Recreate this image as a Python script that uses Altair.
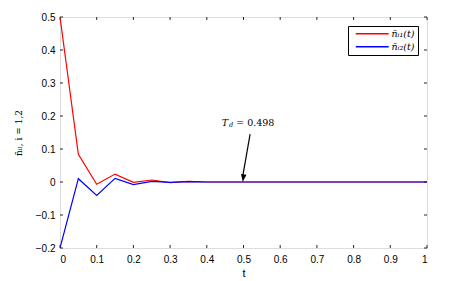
import altair as alt
import pandas as pd

# ---- data ----
t_vals = [0.0, 0.05, 0.1, 0.15, 0.2, 0.25, 0.3, 0.35, 0.4, 0.45, 0.5, 0.55, 0.6, 0.65,
          0.7, 0.75, 0.8, 0.85, 0.9, 0.95, 1.0]
n11 = [0.5, 0.084, -0.007, 0.024, -0.001, 0.006, -0.002, 0.002, 0.0, 0.0, 0.0, 0.0, 0.0,
       0.0, 0.0, 0.0, 0.0, 0.0, 0.0, 0.0, 0.0]
n12 = [-0.2, 0.010, -0.041, 0.011, -0.008, 0.002, -0.001, 0.001, 0.0, 0.0, 0.0, 0.0, 0.0,
       0.0, 0.0, 0.0, 0.0, 0.0, 0.0, 0.0, 0.0]
series_names = ["n̄ᵢ₁(t)", "n̄ᵢ₂(t)"]
series_colors = ["#ff0000", "#0000ff"]

x_ticks = [0, 0.1, 0.2, 0.3, 0.4, 0.5, 0.6, 0.7, 0.8, 0.9, 1]
y_ticks = [-0.2, -0.1, 0, 0.1, 0.2, 0.3, 0.4, 0.5]

annot_value = 0.498
arrow_start = (0.518, 0.145)
arrow_end = (0.498, 0.0)
label_pos = (0.48, 0.18)

W, H = 367, 231
AX = "#262626"

rows = []
for name, vals in zip(series_names, [n11, n12]):
    for t, v in zip(t_vals, vals):
        rows.append({"t": t, "v": v, "s": name})
df = pd.DataFrame(rows)

xs = alt.Scale(domain=[0, 1], nice=False, zero=False)
ys = alt.Scale(domain=[-0.2, 0.5], nice=False, zero=False)
xaxis = alt.Axis(values=x_ticks, ticks=False, title="t", labelPadding=6, titlePadding=3,
                 grid=False, domain=False, format="~g", labelOverlap=False,
                 titleFontWeight="normal")
yaxis = alt.Axis(values=y_ticks, ticks=False, title="n̄ᵢₗ, i = 1,2", grid=False,
                 labelPadding=5, titlePadding=12, domain=False, format="~g",
                 labelOverlap=False, titleFont="DejaVu Serif", titleFontWeight="normal",
                 titleFontSize=9)
XN = dict(scale=xs, axis=xaxis, title="t")
YN = dict(scale=ys, axis=yaxis, title="n̄ᵢₗ, i = 1,2")

lines = alt.Chart(df).mark_line(strokeWidth=1.2, clip=True).encode(
    x=alt.X("t:Q", **XN),
    y=alt.Y("v:Q", **YN),
    color=alt.Color("s:N", scale=alt.Scale(domain=series_names, range=series_colors),
                    legend=alt.Legend(title=None, orient="none", legendX=288, legendY=9,
                                      symbolType="M0,0H9.4", symbolSize=49,
                                      symbolStrokeWidth=1.3, strokeColor="#000000",
                                      fillColor="#ffffff", padding=3, rowPadding=2,
                                      labelFont="DejaVu Serif", labelFontStyle="italic",
                                      labelFontSize=9.5, labelColor="#000000",
                                      labelOffset=31)),
    order=alt.Order("t:Q"),
)

xt = pd.DataFrame({"x": x_ticks})
yt = pd.DataFrame({"y": y_ticks})
tick_b = alt.Chart(xt).mark_rule(color=AX, strokeWidth=1).encode(
    x=alt.X("x:Q", **XN), y=alt.value(H), y2=alt.value(H - 3))
tick_t = alt.Chart(xt).mark_rule(color=AX, strokeWidth=1).encode(
    x=alt.X("x:Q", **XN), y=alt.value(0), y2=alt.value(3))
tick_l = alt.Chart(yt).mark_rule(color=AX, strokeWidth=1).encode(
    y=alt.Y("y:Q", **YN), x=alt.value(0), x2=alt.value(3))
tick_r = alt.Chart(yt).mark_rule(color=AX, strokeWidth=1).encode(
    y=alt.Y("y:Q", **YN), x=alt.value(W), x2=alt.value(W - 3))

arr = pd.DataFrame({"x": [arrow_start[0]], "y": [arrow_start[1]],
                    "x2": [arrow_end[0]], "y2": [arrow_end[1] + 0.018]})
arrow_line = alt.Chart(arr).mark_rule(color="#000000", strokeWidth=1.2).encode(
    x=alt.X("x:Q", **XN), y=alt.Y("y:Q", **YN), x2="x2:Q", y2="y2:Q")
head = pd.DataFrame({"x": [arrow_end[0]], "y": [arrow_end[1]]})
arrow_head = alt.Chart(head).mark_point(
    shape="M0,0L-1,-2.8L1,-2.8Z", size=30, filled=True, color="#000000", opacity=1,
    angle=7).encode(x=alt.X("x:Q", **XN), y=alt.Y("y:Q", **YN))

lab = pd.DataFrame({"x": [label_pos[0]], "y": [label_pos[1]],
                    "txt": ["= " + str(annot_value)]})
label_main = alt.Chart(lab).mark_text(align="left", baseline="middle", font="DejaVu Serif",
                                      fontSize=9.5, color="#000000").encode(
    x=alt.X("x:Q", **XN), y=alt.Y("y:Q", **YN), text="txt:N")
label_T = alt.Chart(lab).mark_text(align="right", baseline="middle", font="DejaVu Serif",
                                   fontStyle="italic", fontSize=9.5, color="#000000",
                                   dx=-8).encode(
    x=alt.X("x:Q", **XN), y=alt.Y("y:Q", **YN), text=alt.value("T"))
label_d = alt.Chart(lab).mark_text(align="right", baseline="middle", font="DejaVu Serif",
                                   fontStyle="italic", fontSize=6.5, color="#000000",
                                   dx=-3, dy=2).encode(
    x=alt.X("x:Q", **XN), y=alt.Y("y:Q", **YN), text=alt.value("d"))

chart = alt.layer(lines, tick_b, tick_t, tick_l, tick_r, arrow_line, arrow_head,
                  label_main, label_T, label_d).properties(
    width=W, height=H,
    autosize=alt.AutoSizeParams(type="none"),
    padding={"left": 52, "top": 9, "right": 30, "bottom": 30},
).configure_view(stroke=AX, strokeWidth=1).configure_axis(
    labelFont="Liberation Sans", labelFontSize=11, labelColor=AX,
    titleFont="Liberation Sans", titleFontSize=11, titleColor=AX, titleFontWeight="normal",
).configure(background="#ffffff")

chart.save("out.html", embed_options={"renderer": "svg", "actions": False})
